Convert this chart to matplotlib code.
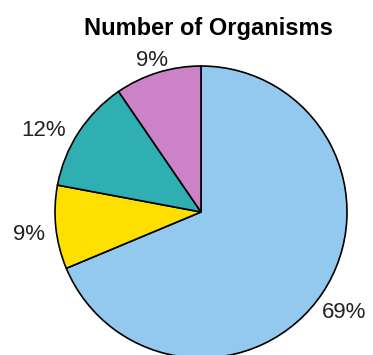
import matplotlib
matplotlib.use("Agg")
import matplotlib.pyplot as plt
import numpy as np

categories = ["A", "B", "C", "D"]
values = [68.7, 9.25, 12.5, 9.55]
labels = ["69%", "9%", "12%", "9%"]
colors = ["#93C9EE", "#FFDF00", "#30AFB2", "#CC82C6"]

# label placement (angle in degrees, distance in radii)
label_angle = [-35, 187.5, 152.7, 108]
label_dist = [1.20, 1.19, 1.21, 1.09]

plt.rcParams['font.family'] = ['Liberation Sans', 'DejaVu Sans']

fig = plt.figure(figsize=(3.73, 3.55), dpi=100)
W, H = 373, 355
cx, cy, r = 201, 212, 146
ax = fig.add_axes([(cx - r) / W, (H - cy - r) / H, 2 * r / W, 2 * r / H])
wedges, _ = ax.pie(values, colors=colors, startangle=90,
                   counterclock=False,
                   wedgeprops=dict(edgecolor="black", linewidth=1.2))
for w in wedges:
    w.set_clip_on(False)
for lab, a, d in zip(labels, label_angle, label_dist):
    t = np.deg2rad(a)
    ax.text(d * np.cos(t), d * np.sin(t), lab, ha="center", va="center",
            fontsize=16, color="#222222")
ax.set_xlim(-1, 1)
ax.set_ylim(-1, 1)
ax.set_aspect("equal")
ax.axis("off")
fig.text(208 / W, 1 - 28 / H, "Number of Organisms", ha="center", va="center",
         fontsize=17, fontweight="bold", color="black")
fig.savefig("out.png", dpi=100)
